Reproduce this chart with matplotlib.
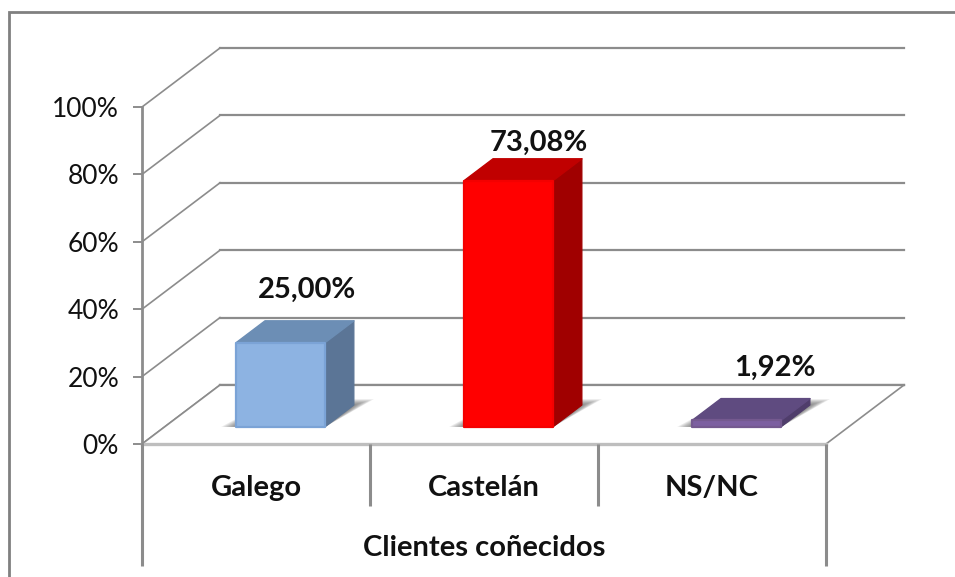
import matplotlib
matplotlib.use("Agg")
import matplotlib.pyplot as plt
from matplotlib.lines import Line2D
from matplotlib.patches import Polygon

categories = ["Galego", "Castelán", "NS/NC"]
values = [25.00, 73.08, 1.92]
value_labels = ["25,00%", "73,08%", "1,92%"]
group_label = "Clientes coñecidos"
y_ticks = [0, 20, 40, 60, 80, 100]
y_tick_labels = ["0%", "20%", "40%", "60%", "80%", "100%"]

face_colors = ["#8DB3E2", "#FF0000", "#7C5FA0"]
edge_colors = ["#7BA3D6", "#F40000", "#74598F"]
top_colors = ["#6C8EB5", "#C00000", "#5F4B80"]
side_colors = ["#5B7596", "#A00000", "#4F3D6B"]

W, H = 955, 577
LEFT, RIGHT, BOTTOM, TOP = 142, 826, 444, 107
GRAY = "#8C8C8C"
TEXT = "#111111"

BAR_W = 0.39
BAR_SHIFT = 2  # pixels
BAR_D0 = 0.29
BAR_D1 = 0.66
SHADOW_D = 0.76
PX_X = (RIGHT - LEFT) / 3
PX_Y = (BOTTOM - TOP) / 100
DEPTH_X = 78 / PX_X
DEPTH_Y = 59 / PX_Y
# label shift from the back of each bar top, in pixels
LABEL_SHIFT = [(0, 31), (3, 16), (11, 31)]


def proj(cat, val, depth=0.0):
    return cat + depth * DEPTH_X, val + depth * DEPTH_Y


plt.rcParams["font.family"] = ["Lato", "DejaVu Sans"]
fig = plt.figure(figsize=(W / 100, H / 100), dpi=100)
ax = fig.add_axes([LEFT / W, 1 - BOTTOM / H, (RIGHT - LEFT) / W, (BOTTOM - TOP) / H])
ax.set_xlim(0, 3)
ax.set_ylim(0, 100)
ax.patch.set_alpha(0)
for s in ax.spines.values():
    s.set_visible(False)

# outer frame has only its top and left sides in view
fig.add_artist(Line2D([8.5 / W, 8.5 / W, 1], [0, 1 - 12 / H, 1 - 12 / H], transform=fig.transFigure,
                      color="#808080", lw=2.0, solid_joinstyle="miter"))

# walls: gridlines on the back and slanted lines on the side
for v in y_ticks:
    x0, y0 = proj(0, v)
    x1, y1 = proj(0, v, 1)
    x2, y2 = proj(3, v, 1)
    ax.plot([x0, x1], [y0, y1], color=GRAY, lw=1.2, clip_on=False, zorder=1)
    ax.plot([x1, x2], [y1, y2], color=GRAY, lw=1.6, clip_on=False, zorder=1)

# floor
floor = [proj(0, 0), proj(3, 0), proj(3, 0, 1), proj(0, 0, 1)]
ax.add_patch(Polygon(floor, closed=True, fc="white", ec="none", clip_on=False, zorder=2))
ax.plot(*zip(proj(0, 0, 1), proj(3, 0, 1)), color=GRAY, lw=1.6, clip_on=False, zorder=3)
ax.plot(*zip(proj(3, 0, 1), proj(3, 0)), color=GRAY, lw=1.2, clip_on=False, zorder=3)
ax.plot(*zip(proj(0, 0), proj(0, 0, 1)), color=GRAY, lw=1.2, clip_on=False, zorder=3)
ax.plot(*zip(proj(0, 0), proj(3, 0)), color="#BEBEBE", lw=2.4, clip_on=False, zorder=3)

# axis lines
ax.plot([0, 0], [0, 100], color=GRAY, lw=2.0, clip_on=False, zorder=4)
ax.set_yticks(y_ticks, y_tick_labels)
ax.tick_params(axis="y", length=6.5, width=1.4, color=GRAY, pad=10, labelsize=19, labelcolor=TEXT)
centers = [i + 0.5 for i in range(len(categories))]
ax.set_xticks(centers, categories)
ax.tick_params(axis="x", length=0, pad=22, labelsize=21, labelcolor=TEXT)
for lab in ax.get_xticklabels():
    lab.set_fontweight("bold")

for i in [1, 2]:
    ax.plot([i, i], [0, -62 / PX_Y], color=GRAY, lw=2.2, solid_capstyle="butt", clip_on=False, zorder=4)
for i in [0, 3]:
    ax.plot([i, i], [0, -122 / PX_Y], color=GRAY, lw=2.2, solid_capstyle="butt", clip_on=False, zorder=4)
ax.text(1.5, -104 / PX_Y, group_label, ha="center", va="center",
        fontsize=21, fontweight="bold", color=TEXT)

# bars
for i, val in enumerate(values):
    xl = centers[i] - BAR_W / 2 + BAR_SHIFT / PX_X
    xr = centers[i] + BAR_W / 2 + BAR_SHIFT / PX_X

    # soft shadow on the floor, darkest close to the bar
    for k in range(8):
        f = 1 - k / 8
        shadow = [proj(xl - 15 * f / PX_X, 0, BAR_D0), proj(xr, 0, BAR_D0),
                  proj(xr + 12 * f / PX_X, 0, BAR_D1 + (SHADOW_D - BAR_D1) * f),
                  proj(xl, 0, BAR_D1 + (SHADOW_D - BAR_D1) * f)]
        ax.add_patch(Polygon(shadow, closed=True, fc="#303030", ec="none", alpha=0.09,
                             clip_on=False, zorder=5))

    top = [proj(xl, val, BAR_D0), proj(xr, val, BAR_D0), proj(xr, val, BAR_D1), proj(xl, val, BAR_D1)]
    side = [proj(xr, 0, BAR_D0), proj(xr, 0, BAR_D1), proj(xr, val, BAR_D1), proj(xr, val, BAR_D0)]
    front = [proj(xl, 0, BAR_D0), proj(xr, 0, BAR_D0), proj(xr, val, BAR_D0), proj(xl, val, BAR_D0)]
    ax.add_patch(Polygon(side, closed=True, fc=side_colors[i], ec=side_colors[i], lw=0.8,
                         joinstyle="round", clip_on=False, zorder=6))
    ax.add_patch(Polygon(top, closed=True, fc=top_colors[i], ec=top_colors[i], lw=1.0,
                         joinstyle="round", clip_on=False, zorder=6))
    ax.add_patch(Polygon(front, closed=True, fc=face_colors[i], ec=edge_colors[i], lw=1.6,
                         joinstyle="round", clip_on=False, zorder=7))

    lx, ly = proj(centers[i], val, BAR_D1)
    ax.annotate(value_labels[i], (lx, ly),
                xytext=(LABEL_SHIFT[i][0] * 0.72, LABEL_SHIFT[i][1] * 0.72), textcoords="offset points",
                ha="center", va="center", fontsize=21, fontweight="bold", color=TEXT,
                annotation_clip=False, zorder=8)

fig.savefig("out.png", dpi=100)
